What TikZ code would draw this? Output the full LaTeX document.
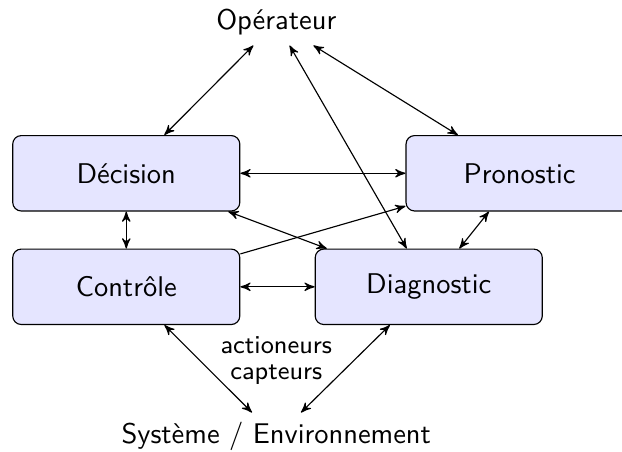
\documentclass[tikz,border=0pt]{standalone}
\usepackage{fontspec}
\usepackage{tikz}
\usetikzlibrary{arrows}

\begin{document}
\begin{tikzpicture}[>=stealth',auto,node distance=1.4cm,font=\sffamily,
    bloc/.style={draw,fill=blue!10,rounded corners=3pt,minimum width=2.8cm,minimum height=0.93cm}]
    \useasboundingbox (-1.557,2.137) rectangle (6.113,-3.436);
    \node[bloc] (dec) {Décision};
    \node[bloc] (pro) [node distance=4.85cm, right of=dec] {Pronostic};
    \node[bloc] (ctl) [below of=dec] {Contrôle};
    \node[bloc] (dia) [node distance=3.73cm, right of=ctl] {Diagnostic};
    \node (op) [node distance=1.86cm, above of=dec, xshift=1.85cm] {Opérateur};
    \node (sys) [node distance=1.85cm, below of=ctl, xshift=1.85cm] {Système / Environnement};
    \node (act) [node distance=0.94cm, above of=sys, align=center, font=\sffamily\small] {actioneurs\\[-2pt]capteurs};

    \path[<->] (op) edge (dec)
               (op) edge (pro)
               (op) edge (dia)
               (dec) edge (pro)
               (dec) edge (ctl)
               (dec) edge (dia)
               (ctl) edge (dia)
               (pro) edge (dia)
               (ctl) edge (sys)
               (dia) edge (sys);
    \path[->] (ctl) edge (pro);
\end{tikzpicture}
\end{document}
